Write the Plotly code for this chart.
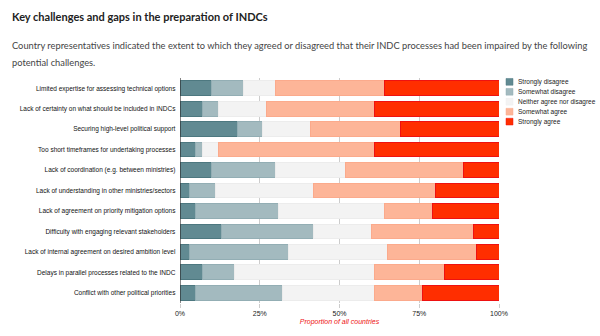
import plotly.graph_objects as go

# Challenges, listed top to bottom
challenges = [
    "Limited expertise for assessing technical options",
    "Lack of certainty on what should be included in INDCs",
    "Securing high-level political support",
    "Too short timeframes for undertaking processes",
    "Lack of coordination (e.g. between ministries)",
    "Lack of understanding in other ministries/sectors",
    "Lack of agreement on priority mitigation options",
    "Difficulty with engaging relevant stakeholders",
    "Lack of internal agreement on desired ambition level",
    "Delays in parallel processes related to the INDC",
    "Conflict with other political priorities",
]

# Share of countries (%) per response
strongly_disagree = [10, 7, 18, 5, 10, 3, 5, 13, 3, 7, 5]
somewhat_disagree = [10, 5, 8, 2, 20, 8, 26, 29, 31, 10, 27]
neither = [10, 15, 15, 5, 22, 31, 33, 18, 31, 44, 29]
somewhat_agree = [34, 34, 28, 49, 37, 38, 15, 32, 28, 22, 15]
strongly_agree = [36, 39, 31, 39, 11, 20, 21, 8, 7, 17, 24]

tick_vals = [0, 25, 50, 75, 100]
tick_text = ["0%", "25%", "50%", "75%", "100%"]

series = [
    ("Strongly disagree", strongly_disagree, "#618a92", "#4d7880"),
    ("Somewhat disagree", somewhat_disagree, "#a3babf", "#93aeb4"),
    ("Neither agree nor disagree", neither, "#f3f3f3", "#ececec"),
    ("Somewhat agree", somewhat_agree, "#fdb598", "#fbaa8c"),
    ("Strongly agree", strongly_agree, "#ff2e00", "#ee1111"),
]

fig = go.Figure()
for name, vals, fill, edge in series:
    fig.add_trace(go.Bar(
        y=challenges,
        x=vals,
        name=name,
        orientation="h",
        marker=dict(color=fill, line=dict(color=edge, width=1)),
        hovertemplate="%{y}<br>" + name + ": %{x}%<extra></extra>",
    ))

# Compact legend to the right of the plot: small square swatch + label
PLOT_H = 336 - 78 - 25
PLOT_W = 600 - 180 - 101
legend_shapes = []
legend_notes = []
sw = 7  # swatch size, px
for i, (name, _, fill, edge) in enumerate(series):
    cy = 82 + i * 10.3 - 78          # px below plot top
    yc = 1 - cy / PLOT_H
    x0 = (506 - 180) / PLOT_W
    x1 = (506 + sw - 180) / PLOT_W
    legend_shapes.append(dict(
        type="rect", xref="paper", yref="paper",
        x0=x0, x1=x1, y0=yc - sw / 2 / PLOT_H, y1=yc + sw / 2 / PLOT_H,
        fillcolor=fill, line=dict(color=edge, width=0.5),
    ))
    legend_notes.append(dict(
        text=name, xref="paper", yref="paper",
        x=(516 - 180) / PLOT_W, y=yc, xanchor="left", yanchor="middle",
        showarrow=False, font=dict(size=6.5, color="#222"),
    ))

fig.update_layout(
    width=600,
    height=336,
    barmode="stack",
    bargap=0.28,
    paper_bgcolor="white",
    plot_bgcolor="white",
    margin=dict(l=180, r=101, t=78, b=25),
    font=dict(family="Liberation Sans, Arial, sans-serif", size=7, color="#222"),
    showlegend=False,
    xaxis=dict(
        range=[0, 100],
        tickvals=tick_vals,
        ticktext=tick_text,
        showgrid=True,
        gridcolor="#cccccc",
        gridwidth=1,
        zeroline=False,
        showline=False,
        ticks="outside",
        ticklen=4,
        tickcolor="#cccccc",
        tickfont=dict(size=7, color="#222"),
        title=dict(
            text="Proportion of all countries",
            font=dict(size=7, color="#ee1111", style="italic",
                      family="Liberation Sans, Arial, sans-serif"),
            standoff=2,
        ),
        fixedrange=True,
    ),
    yaxis=dict(
        categoryorder="array",
        categoryarray=challenges[::-1],
        showgrid=False,
        zeroline=False,
        showline=False,
        ticks="",
        ticksuffix="  ",
        tickfont=dict(size=6.5, color="#111"),
        fixedrange=True,
    ),
    annotations=[
        dict(
            text="<b>Key challenges and gaps in the preparation of INDCs</b>",
            xref="paper", yref="paper", x=-0.533, y=1.275,
            xanchor="left", yanchor="middle", showarrow=False,
            font=dict(family="Lato, sans-serif", size=11, color="#222"),
        ),
        dict(
            text="Country representatives indicated the extent to which they agreed or disagreed that their INDC processes had been impaired by the following",
            xref="paper", yref="paper", x=-0.533, y=1.146,
            xanchor="left", yanchor="middle", showarrow=False,
            font=dict(family="Lato, sans-serif", size=9.3, color="#444"),
        ),
        dict(
            text="potential challenges.",
            xref="paper", yref="paper", x=-0.533, y=1.069,
            xanchor="left", yanchor="middle", showarrow=False,
            font=dict(family="Lato, sans-serif", size=9.3, color="#444"),
        ),
    ] + legend_notes,
    shapes=[
        dict(type="line", xref="x", yref="paper", x0=0, x1=0, y0=0, y1=1,
             line=dict(color="#333", width=1.2), layer="above"),
    ] + legend_shapes,
)

fig.write_html("out.html")
